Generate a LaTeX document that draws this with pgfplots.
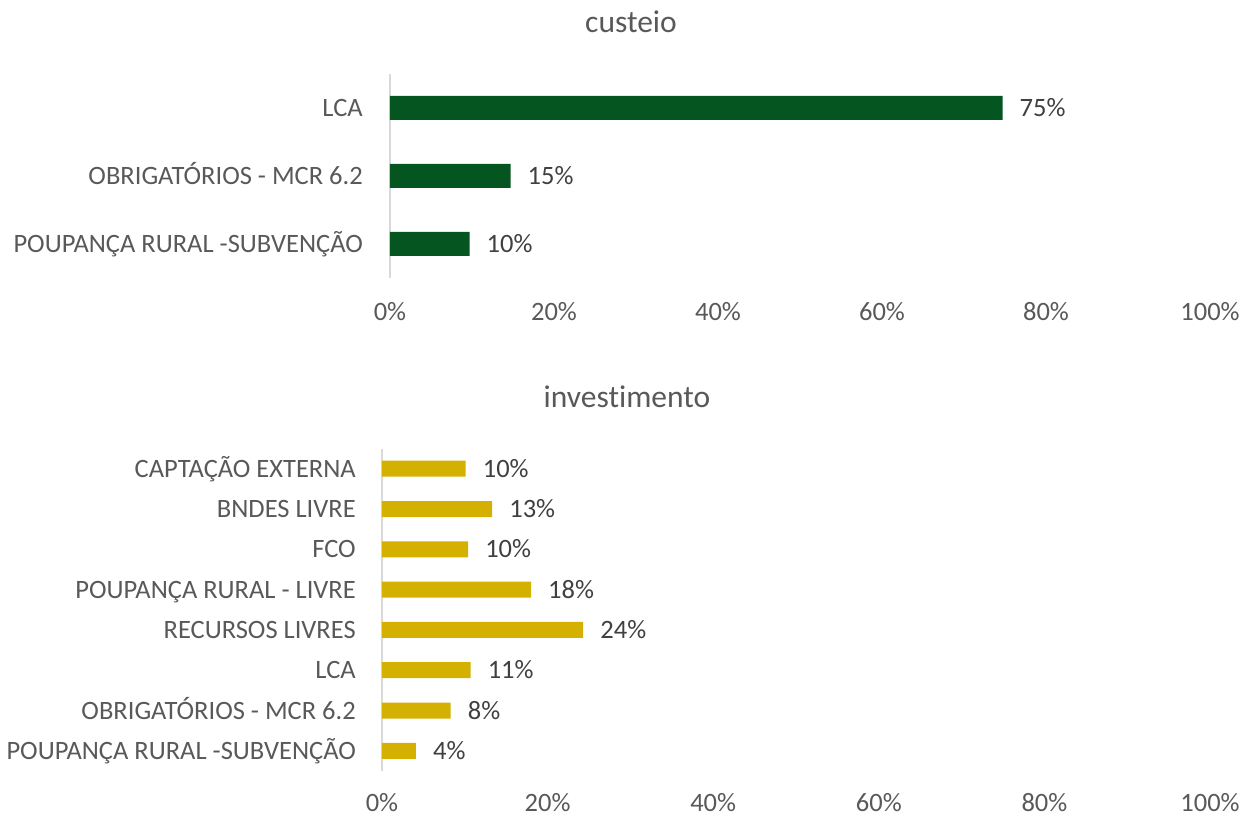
\documentclass[border=0pt]{standalone}
\usepackage{pgfplots}
\usepackage{pgfplotstable}
\pgfplotsset{compat=1.18}
\usepackage{fontspec}
\setmainfont{Carlito}[Ligatures=NoCommon]
\definecolor{cgreen}{RGB}{4,85,32}
\definecolor{cgold}{RGB}{212,176,0}
\definecolor{lbl}{RGB}{89,89,89}
\definecolor{dlbl}{RGB}{64,64,64}
\definecolor{axl}{RGB}{217,217,217}

\pgfplotstableread{
y val
0 9.7
1 14.7
2 74.7
}\custeio
\pgfplotstableread{
y val
0 4.1
1 8.3
2 10.7
3 24.3
4 18.0
5 10.4
6 13.3
7 10.1
}\invest

\pgfplotsset{
  mystyle/.style={
    scale only axis, xbar, xmin=0, xmax=100,
    xtick={0,20,...,100}, xticklabels={0\%,20\%,40\%,60\%,80\%,100\%},
    axis line style={draw=none}, major tick length=0pt,
    ytick=data,
    tick label style={font=\fontsize{26.5}{30}\selectfont, text=lbl, inner sep=0pt},
    yticklabel style={anchor=base east, yshift=-8.6pt},
    extra x ticks={0}, extra x tick labels={},
    extra x tick style={grid=major, major grid style={draw=axl, line width=1.3pt}},
    nodes near coords={\pgfmathprintnumber[fixed,precision=0]{\pgfplotspointmeta}\%},
    nodes near coords style={font=\fontsize{26.5}{30}\selectfont, text=dlbl, anchor=base west, inner sep=0pt, xshift=17pt, yshift=-8.6pt},
    /pgf/number format/assume math mode=true,
  }
}

\begin{document}
\begin{tikzpicture}[x=1pt,y=1pt]
\path[use as bounding box] (0,0) rectangle (1240,816);

\begin{axis}[mystyle,
  at={(390pt,538pt)}, anchor=south west,
  width=820pt, height=204pt,
  ymin=-0.5, ymax=2.5, bar width=24pt,
  xticklabel style={anchor=base, yshift=-43pt},
  yticklabels={POUPANÇA RURAL -SUBVENÇÃO, OBRIGATÓRIOS - MCR 6.2, LCA},
  yticklabel style={xshift=-27pt},
]
\addplot[fill=cgreen, draw=none] table[x=val, y=y] {\custeio};
\end{axis}

\begin{axis}[mystyle,
  at={(382pt,45pt)}, anchor=south west,
  width=828pt, height=322.4pt,
  ymin=-0.5, ymax=7.5, bar width=16pt,
  xticklabel style={anchor=base, yshift=-40.5pt},
  yticklabels={POUPANÇA RURAL -SUBVENÇÃO, OBRIGATÓRIOS - MCR 6.2, LCA, RECURSOS LIVRES, POUPANÇA RURAL - LIVRE, FCO, BNDES LIVRE, CAPTAÇÃO EXTERNA},
  yticklabel style={xshift=-26pt},
]
\addplot[fill=cgold, draw=none] table[x=val, y=y] {\invest};
\end{axis}

\node[font=\fontsize{31.5}{36}\selectfont, text=lbl] at (631,794) {custeio};
\node[font=\fontsize{31.5}{36}\selectfont, text=lbl] at (627,419) {investimento};
\end{tikzpicture}
\end{document}
